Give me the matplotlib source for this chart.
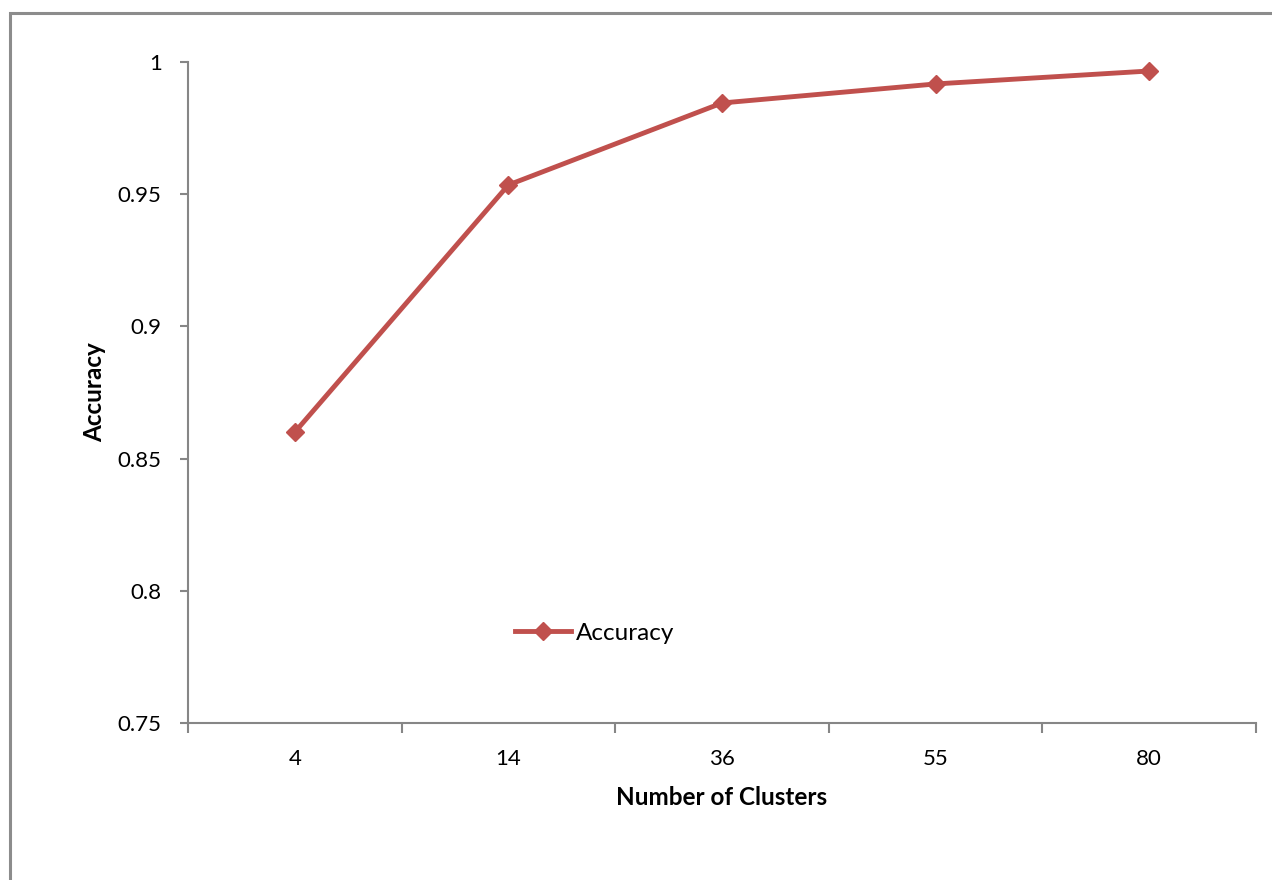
import numpy as np
import matplotlib.pyplot as plt
from matplotlib.patches import Rectangle

plt.rcParams['font.family'] = ['Lato', 'DejaVu Sans']

# clusters vs accuracy
clusters = ['4', '14', '36', '55', '80']
accuracy = [0.860, 0.9535, 0.9845, 0.9917, 0.9966]
yticks = [0.75, 0.8, 0.85, 0.9, 0.95, 1.0]
yticklabels = ['0.75', '0.8', '0.85', '0.9', '0.95', '1']

lineColor = '#C0504D'
axisColor = '#868686'

fig = plt.figure(figsize=(12.72, 8.8), dpi=100)
# outer chart border
fig.patches.append(Rectangle((10 / 1272, -0.1), 1.2, (880 - 13) / 880 + 0.1,
                             transform=fig.transFigure, fill=False,
                             edgecolor='#8c8c8c', linewidth=2.2))

ax = fig.add_axes([188 / 1272, (880 - 723) / 880, (1256 - 188) / 1272, (723 - 62) / 880])

x = np.arange(len(clusters))
ax.plot(x, accuracy, color=lineColor, linewidth=3.5, marker='D', markersize=9.5,
        markeredgecolor=lineColor, label='Accuracy')

ax.set_xlim(-0.5, len(clusters) - 0.5)
ax.set_ylim(0.75, 1.0)

# category boundaries get the tick marks, labels sit in the middle
ax.set_xticks(np.arange(len(clusters) + 1) - 0.5)
ax.set_xticklabels([])
ax.set_xticks(x, minor=True)
ax.set_xticklabels(clusters, minor=True)
ax.tick_params(axis='x', which='major', length=7, width=1.5, color=axisColor, direction='out')
ax.tick_params(axis='x', which='minor', length=0, pad=19, labelsize=16)

ax.set_yticks(yticks)
ax.set_yticklabels(yticklabels)
ax.tick_params(axis='y', length=6, width=1.5, color=axisColor, direction='out', pad=13, labelsize=16)

for side in ['top', 'right']:
    ax.spines[side].set_visible(False)
for side in ['left', 'bottom']:
    ax.spines[side].set_color(axisColor)
    ax.spines[side].set_linewidth(1.5)

ax.set_xlabel('Number of Clusters', fontsize=17.5, fontweight='bold', labelpad=12)
ax.set_ylabel('Accuracy', fontsize=17.5, fontweight='bold', labelpad=8)

ax.legend(loc='center', bbox_to_anchor=(0.381, 0.136), frameon=False, fontsize=17.5,
          handlelength=2.3, handletextpad=0.2)

fig.savefig('out.png', dpi=100)
